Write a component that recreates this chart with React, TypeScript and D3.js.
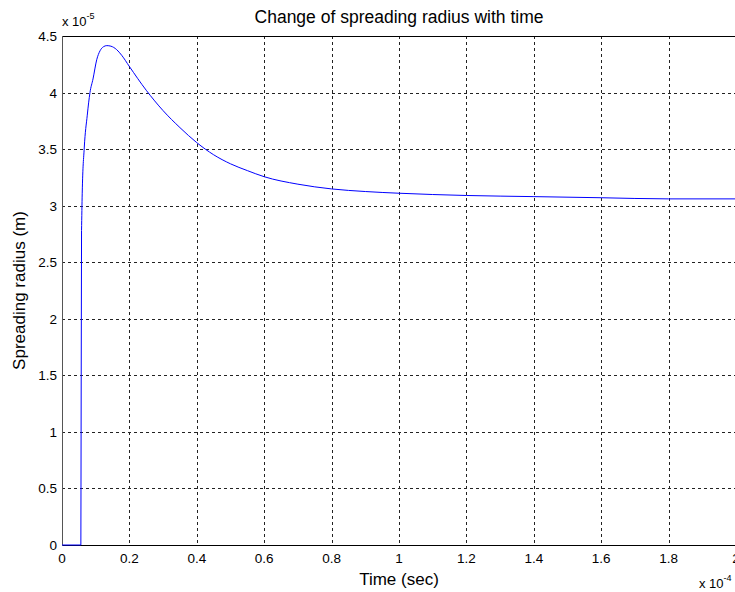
import { useEffect, useRef } from "react";
import * as d3 from "d3";

// time in units of 1e-4 s, radius in units of 1e-5 m
const timeVals = [0, 0.056, 0.057, 0.058, 0.06, 0.066, 0.075, 0.083, 0.092, 0.103, 0.113, 0.123, 0.133, 0.145, 0.162, 0.177, 0.2, 0.25, 0.3, 0.35, 0.4, 0.45, 0.5, 0.55, 0.6, 0.7, 0.8, 0.9, 1.0, 1.2, 1.4, 1.6, 1.8, 2.0];
const radiusVals = [0, 0, 1.5, 2.78, 3.11, 3.51, 3.8, 4.0, 4.12, 4.29, 4.37, 4.405, 4.415, 4.41, 4.38, 4.33, 4.23, 4.02, 3.84, 3.69, 3.557, 3.45, 3.37, 3.31, 3.256, 3.19, 3.148, 3.125, 3.11, 3.09, 3.08, 3.07, 3.06, 3.06];
const xTicks = [0, 0.2, 0.4, 0.6, 0.8, 1, 1.2, 1.4, 1.6, 1.8, 2];
const yTicks = [0, 0.5, 1, 1.5, 2, 2.5, 3, 3.5, 4, 4.5];

export default function App() {
  const ref = useRef<SVGSVGElement>(null);

  useEffect(() => {
    const svg = d3.select(ref.current);
    svg.selectAll("*").remove();
    const left = 62, right = 736, top = 36, bottom = 545;
    const x = d3.scaleLinear().domain([0, 2]).range([left, right]);
    const y = d3.scaleLinear().domain([0, 4.5]).range([bottom, top]);
    const font = "Arial, 'Liberation Sans', sans-serif";

    svg.append("rect").attr("width", 735).attr("height", 592).attr("fill", "#fff");

    // grid
    const grid = svg.append("g").attr("stroke", "#222").attr("stroke-dasharray", "3,3").attr("stroke-width", 1);
    xTicks.slice(1).forEach((t) => {
      grid.append("line").attr("x1", Math.round(x(t)) + 0.5).attr("x2", Math.round(x(t)) + 0.5).attr("y1", top).attr("y2", bottom);
    });
    yTicks.slice(1).forEach((t) => {
      grid.append("line").attr("y1", Math.round(y(t)) + 0.5).attr("y2", Math.round(y(t)) + 0.5).attr("x1", left).attr("x2", right);
    });

    // axes box
    svg.append("line").attr("x1", left).attr("x2", right).attr("y1", top + 0.5).attr("y2", top + 0.5).attr("stroke", "#000");
    svg.append("line").attr("x1", left).attr("x2", right).attr("y1", bottom + 0.5).attr("y2", bottom + 0.5).attr("stroke", "#000");
    svg.append("line").attr("x1", left + 0.5).attr("x2", left + 0.5).attr("y1", top).attr("y2", bottom + 1).attr("stroke", "#555");

    // curve
    const pts: [number, number][] = timeVals.map((t, i) => [t, radiusVals[i]]);
    const line = d3.line<[number, number]>().x((d) => x(d[0])).y((d) => y(d[1])).curve(d3.curveMonotoneX);
    svg.append("path").attr("d", line(pts.slice(3)) as string).attr("fill", "none").attr("stroke", "#0000ff").attr("stroke-width", 1);
    svg.append("path").attr("d", d3.line<[number, number]>().x((d) => x(d[0])).y((d) => y(d[1]))(pts.slice(0, 4)) as string)
      .attr("fill", "none").attr("stroke", "#0000ff").attr("stroke-width", 1);

    // tick labels
    const tl = svg.append("g").attr("font-family", font).attr("font-size", 13.5).attr("fill", "#000");
    xTicks.forEach((t) => {
      tl.append("text").attr("x", x(t)).attr("y", 563).attr("text-anchor", "middle").text(String(t));
    });
    yTicks.forEach((t) => {
      tl.append("text").attr("x", 57).attr("y", y(t) + 5).attr("text-anchor", "end").text(String(t));
    });

    // exponent labels
    const e1 = svg.append("text").attr("x", 62).attr("y", 26).attr("font-family", font).attr("font-size", 13);
    e1.append("tspan").text("x 10");
    e1.append("tspan").attr("font-size", 9).attr("dy", -7).text("-5");
    const e2 = svg.append("text").attr("x", 699).attr("y", 588).attr("font-family", font).attr("font-size", 13);
    e2.append("tspan").text("x 10");
    e2.append("tspan").attr("font-size", 9).attr("dy", -7).text("-4");

    // titles
    svg.append("text").attr("x", 399).attr("y", 23).attr("text-anchor", "middle").attr("font-family", font).attr("font-size", 17.5).text("Change of spreading radius with time");
    svg.append("text").attr("x", 399).attr("y", 585).attr("text-anchor", "middle").attr("font-family", font).attr("font-size", 17).text("Time (sec)");
    svg.append("text").attr("transform", `translate(25,${(top + bottom) / 2}) rotate(-90)`).attr("text-anchor", "middle").attr("font-family", font).attr("font-size", 17).text("Spreading radius (m)");
  }, []);

  return <svg ref={ref} width={735} height={592} style={{ position: "absolute", left: 0, top: 0 }} />;
}
